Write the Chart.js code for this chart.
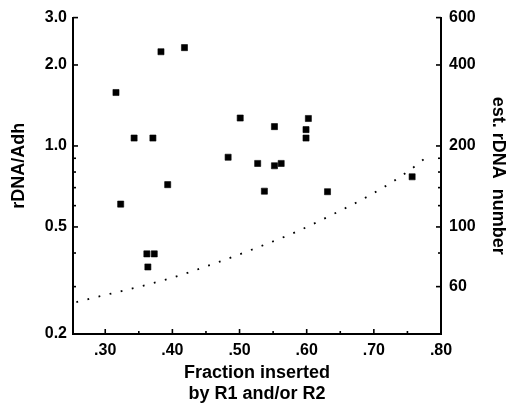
<!DOCTYPE html>
<html>
<head>
<meta charset="utf-8">
<script src="https://cdn.jsdelivr.net/npm/chart.js@4"></script>
<style>
html,body{margin:0;padding:0;background:#fff;}
#wrap{width:507px;height:406px;position:relative;}
</style>
</head>
<body>
<div id="wrap"><canvas id="c" width="507" height="406"></canvas></div>
<script>
// ---- data ----
const fracInserted = [0.316,0.343,0.371,0.383,0.418,0.323,0.393,0.362,0.373,0.3635,
                      0.501,0.483,0.527,0.552,0.552,0.562,0.537,0.599,0.599,0.6025,0.631,0.757];
const rdnaAdh      = [1.58,1.07,1.07,2.24,2.32,0.608,0.718,0.397,0.397,0.355,
                      1.27,0.908,0.861,1.18,0.844,0.861,0.679,1.07,1.15,1.265,0.676,0.768];
const curveX = [0.257,0.327,0.395,0.459,0.522,0.583,0.641,0.697,0.749,0.785];
const curveY = [0.263,0.290,0.321,0.363,0.415,0.478,0.560,0.662,0.798,0.937];

const xTicks      = [0.30,0.40,0.50,0.60,0.70,0.80];
const xMinorTicks = [0.35,0.45,0.55,0.65,0.75];
const yTicks      = [0.2,0.5,1.0,2.0,3.0];
const yTickLabels = ['0.2','0.5','1.0','2.0','3.0'];
const yMinorTicks = [0.3,0.4,0.6,0.7,0.8,0.9];
const y2Ticks      = [60,100,200,400,600];
const y2MinorTicks = [80,120,140,160,180];

const FONT = "'Liberation Sans', Arial, Helvetica, sans-serif";
const tickFont = {family: FONT, size: 16, weight: 'bold'};

function mkTicks(major, minor){
  return major.map(v=>({value:v, lab:true})).concat(minor.map(v=>({value:v, lab:false})))
              .sort((a,b)=>a.value-b.value);
}

const inwardTicks = {
  id: 'inwardTicks',
  afterDraw(chart){
    const ctx = chart.ctx, a = chart.chartArea;
    ctx.save();
    ctx.strokeStyle = '#000';
    ctx.lineWidth = 1.6;
    const sx = chart.scales.x, sy = chart.scales.y, sy2 = chart.scales.y2;
    sx.ticks.forEach(t=>{
      const p = sx.getPixelForValue(t.value);
      const L = t.lab ? 5 : 3;
      ctx.beginPath(); ctx.moveTo(p, a.bottom); ctx.lineTo(p, a.bottom - L); ctx.stroke();
    });
    sy.ticks.forEach(t=>{
      const p = sy.getPixelForValue(t.value);
      const L = t.lab ? 5 : 3;
      ctx.beginPath(); ctx.moveTo(a.left, p); ctx.lineTo(a.left + L, p); ctx.stroke();
    });
    sy2.ticks.forEach(t=>{
      const p = sy2.getPixelForValue(t.value);
      const L = t.lab ? 5 : 3;
      ctx.beginPath(); ctx.moveTo(a.right, p); ctx.lineTo(a.right - L, p); ctx.stroke();
    });
    ctx.restore();
  }
};

new Chart(document.getElementById('c'), {
  type: 'scatter',
  data: {
    datasets: [
      {
        label: 'samples',
        data: fracInserted.map((x,i)=>({x:x, y:rdnaAdh[i]})),
        pointStyle: 'rect',
        pointRadius: 4.3,
        pointBorderWidth: 0.6,
        backgroundColor: '#000',
        borderColor: '#000',
        yAxisID: 'y'
      },
      {
        label: 'curve',
        data: curveX.map((x,i)=>({x:x, y:curveY[i]})),
        showLine: true,
        pointRadius: 0,
        borderColor: '#000',
        borderWidth: 1.8,
        borderDash: [1.8, 9.6],
        cubicInterpolationMode: 'monotone',
        fill: false,
        yAxisID: 'y'
      }
    ]
  },
  options: {
    responsive: false,
    animation: false,
    devicePixelRatio: 1,
    layout: {padding: {top: 16, left: 0, right: 0, bottom: 0}},
    plugins: {legend: {display: false}, tooltip: {enabled: false}},
    scales: {
      x: {
        type: 'linear',
        min: 0.252, max: 0.80,
        afterBuildTicks: s => { s.ticks = mkTicks(xTicks, xMinorTicks); },
        afterFit: s => { s.height = 72; },
        grid: {display: false, drawTicks: false},
        border: {display: true, width: 2, color: '#000'},
        ticks: {
          autoSkip: false, maxRotation: 0, padding: 7, color: '#000', font: tickFont,
          callback: (v) => xTicks.some(t=>Math.abs(t-v)<1e-6) ? '.' + Math.round(v*100) : ''
        },
        title: {
          display: true, text: ['Fraction inserted', 'by R1 and/or R2'],
          color: '#000', font: {family: FONT, size: 18, weight: 'bold', lineHeight: '21px'},
          padding: {top: 0, bottom: 1}
        }
      },
      y: {
        type: 'logarithmic',
        position: 'left',
        min: 0.2, max: 3.0,
        afterBuildTicks: s => { s.ticks = mkTicks(yTicks, yMinorTicks); },
        afterFit: s => { s.width = 73; },
        grid: {display: false, drawTicks: false},
        border: {display: true, width: 2, color: '#000'},
        ticks: {
          autoSkip: false, padding: 6, color: '#000', font: tickFont,
          callback: (v) => { const i = yTicks.findIndex(t=>Math.abs(t-v)<1e-6); return i>=0 ? yTickLabels[i] : ''; }
        },
        title: {
          display: true, text: '    rDNA/Adh', color: '#000',
          font: {family: FONT, size: 18, weight: 'bold', lineHeight: 1},
          padding: {top: 10, bottom: 0}
        }
      },
      y2: {
        type: 'logarithmic',
        position: 'right',
        min: 40, max: 600,
        afterBuildTicks: s => { s.ticks = mkTicks(y2Ticks, y2MinorTicks); },
        afterFit: s => { s.width = 66; },
        grid: {display: false, drawTicks: false},
        border: {display: true, width: 2, color: '#000'},
        ticks: {
          autoSkip: false, padding: 8, color: '#000', font: tickFont,
          callback: (v) => y2Ticks.some(t=>Math.abs(t-v)<1e-6) ? String(v) : ''
        },
        title: {
          display: true, text: 'est. rDNA  number', color: '#000',
          font: {family: FONT, size: 18, weight: 'bold', lineHeight: 1},
          padding: {top: 0, bottom: 0}
        }
      }
    }
  },
  plugins: [inwardTicks]
});
</script>
</body>
</html>
